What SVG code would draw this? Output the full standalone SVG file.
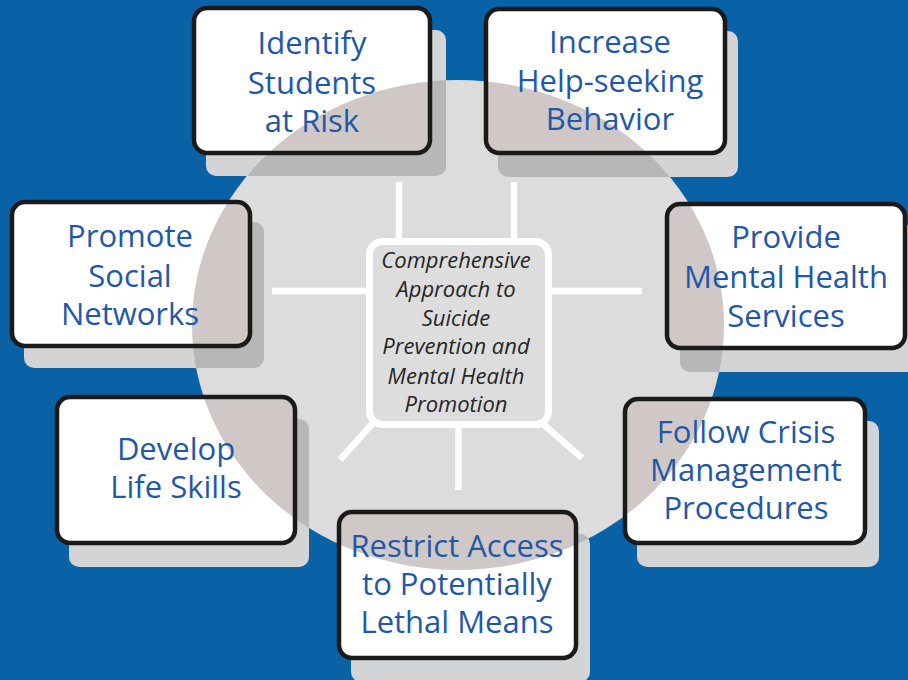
<svg xmlns="http://www.w3.org/2000/svg" width="908" height="680" viewBox="0 0 908 680">
<style>
.shadow{fill:#d3d4d6}
.shadowin{fill:#b7b7b8}
.fill{fill:#ffffff}
.tint{fill:#cfc8c6}
.border{fill:none;stroke:#1b1a1a;stroke-width:4.5}
.label{font-family:"Open Sans","DejaVu Sans",sans-serif;font-size:31px;fill:#1f58a8;text-anchor:middle}
.center{font-family:"Open Sans","DejaVu Sans",sans-serif;font-size:22px;font-style:italic;fill:#262626;text-anchor:middle}
.spoke{stroke:#ffffff;stroke-width:6.5;fill:none}
</style>
<defs>
<clipPath id="circ"><ellipse cx="458" cy="325" rx="266" ry="245"/></clipPath>
</defs>
<rect x="0" y="0" width="908" height="680" fill="#0862a5"/>
<ellipse cx="458" cy="325" rx="266" ry="245" fill="#dcdcdc"/>
<g id="connectors">
<line class="spoke" x1="399" y1="182" x2="399" y2="242"/>
<line class="spoke" x1="514" y1="182" x2="514" y2="242"/>
<line class="spoke" x1="272" y1="291" x2="370" y2="291"/>
<line class="spoke" x1="548" y1="291" x2="642" y2="291"/>
<line class="spoke" x1="372" y1="424" x2="340" y2="460"/>
<line class="spoke" x1="458.5" y1="425" x2="458.5" y2="490"/>
<line class="spoke" x1="543" y1="424" x2="582" y2="458"/>
</g>
<g id="center">
<rect x="369.5" y="241.5" width="179" height="183" rx="13" fill="#dddddd" stroke="#ffffff" stroke-width="7"/>
<text class="center"><tspan x="456" y="268">Comprehensive</tspan><tspan x="456" y="297">Approach to</tspan><tspan x="456" y="326">Suicide</tspan><tspan x="456" y="354">Prevention and</tspan><tspan x="456" y="384">Mental Health</tspan><tspan x="456" y="412">Promotion</tspan></text>
</g>
<g id="identify">
<rect class="shadow" x="206" y="30" width="240" height="146" rx="10"/>
<rect class="shadowin" x="206" y="30" width="240" height="146" rx="10" clip-path="url(#circ)"/>
<rect class="fill" x="194" y="8" width="236" height="145" rx="13"/>
<rect class="tint" x="194" y="8" width="236" height="145" rx="13" clip-path="url(#circ)"/>
<rect class="border" x="194" y="8" width="236" height="145" rx="13"/>
<text class="label"><tspan x="312" y="54">Identify</tspan><tspan x="312" y="94">Students</tspan><tspan x="312" y="132">at Risk</tspan></text>
</g>
<g id="increase">
<rect class="shadow" x="498" y="31" width="240" height="146" rx="10"/>
<rect class="shadowin" x="498" y="31" width="240" height="146" rx="10" clip-path="url(#circ)"/>
<rect class="fill" x="486" y="9" width="239" height="144" rx="13"/>
<rect class="tint" x="486" y="9" width="239" height="144" rx="13" clip-path="url(#circ)"/>
<rect class="border" x="486" y="9" width="239" height="144" rx="13"/>
<text class="label"><tspan x="610" y="53">Increase</tspan><tspan x="610" y="92">Help-seeking</tspan><tspan x="610" y="130">Behavior</tspan></text>
</g>
<g id="promote">
<rect class="shadow" x="24" y="222" width="240" height="146" rx="10"/>
<rect class="shadowin" x="24" y="222" width="240" height="146" rx="10" clip-path="url(#circ)"/>
<rect class="fill" x="12" y="202" width="238" height="144" rx="13"/>
<rect class="tint" x="12" y="202" width="238" height="144" rx="13" clip-path="url(#circ)"/>
<rect class="border" x="12" y="202" width="238" height="144" rx="13"/>
<text class="label"><tspan x="130" y="247">Promote</tspan><tspan x="130" y="287">Social</tspan><tspan x="130" y="325">Networks</tspan></text>
</g>
<g id="provide">
<rect class="shadow" x="680" y="225" width="240" height="147" rx="10"/>
<rect class="shadowin" x="680" y="225" width="240" height="147" rx="10" clip-path="url(#circ)"/>
<rect class="fill" x="667" y="204" width="238" height="144" rx="13"/>
<rect class="tint" x="667" y="204" width="238" height="144" rx="13" clip-path="url(#circ)"/>
<rect class="border" x="667" y="204" width="238" height="144" rx="13"/>
<text class="label"><tspan x="786" y="248">Provide</tspan><tspan x="786" y="288">Mental Health</tspan><tspan x="786" y="327">Services</tspan></text>
</g>
<g id="develop">
<rect class="shadow" x="69" y="419" width="240" height="148" rx="10"/>
<rect class="shadowin" x="69" y="419" width="240" height="148" rx="10" clip-path="url(#circ)"/>
<rect class="fill" x="57" y="397" width="238" height="146" rx="13"/>
<rect class="tint" x="57" y="397" width="238" height="146" rx="13" clip-path="url(#circ)"/>
<rect class="border" x="57" y="397" width="238" height="146" rx="13"/>
<text class="label"><tspan x="176" y="460">Develop</tspan><tspan x="176" y="498">Life Skills</tspan></text>
</g>
<g id="follow">
<rect class="shadow" x="637" y="421" width="242" height="146" rx="10"/>
<rect class="shadowin" x="637" y="421" width="242" height="146" rx="10" clip-path="url(#circ)"/>
<rect class="fill" x="625" y="399" width="240" height="144" rx="13"/>
<rect class="tint" x="625" y="399" width="240" height="144" rx="13" clip-path="url(#circ)"/>
<rect class="border" x="625" y="399" width="240" height="144" rx="13"/>
<text class="label"><tspan x="746" y="443">Follow Crisis</tspan><tspan x="746" y="481">Management</tspan><tspan x="746" y="519">Procedures</tspan></text>
</g>
<g id="restrict">
<rect class="shadow" x="351" y="534" width="239" height="148" rx="10"/>
<rect class="shadowin" x="351" y="534" width="239" height="148" rx="10" clip-path="url(#circ)"/>
<rect class="fill" x="339" y="512" width="237" height="146" rx="13"/>
<rect class="tint" x="339" y="512" width="237" height="146" rx="13" clip-path="url(#circ)"/>
<rect class="border" x="339" y="512" width="237" height="146" rx="13"/>
<text class="label"><tspan x="457" y="557">Restrict Access</tspan><tspan x="457" y="595">to Potentially</tspan><tspan x="457" y="633">Lethal Means</tspan></text>
</g>
</svg>
